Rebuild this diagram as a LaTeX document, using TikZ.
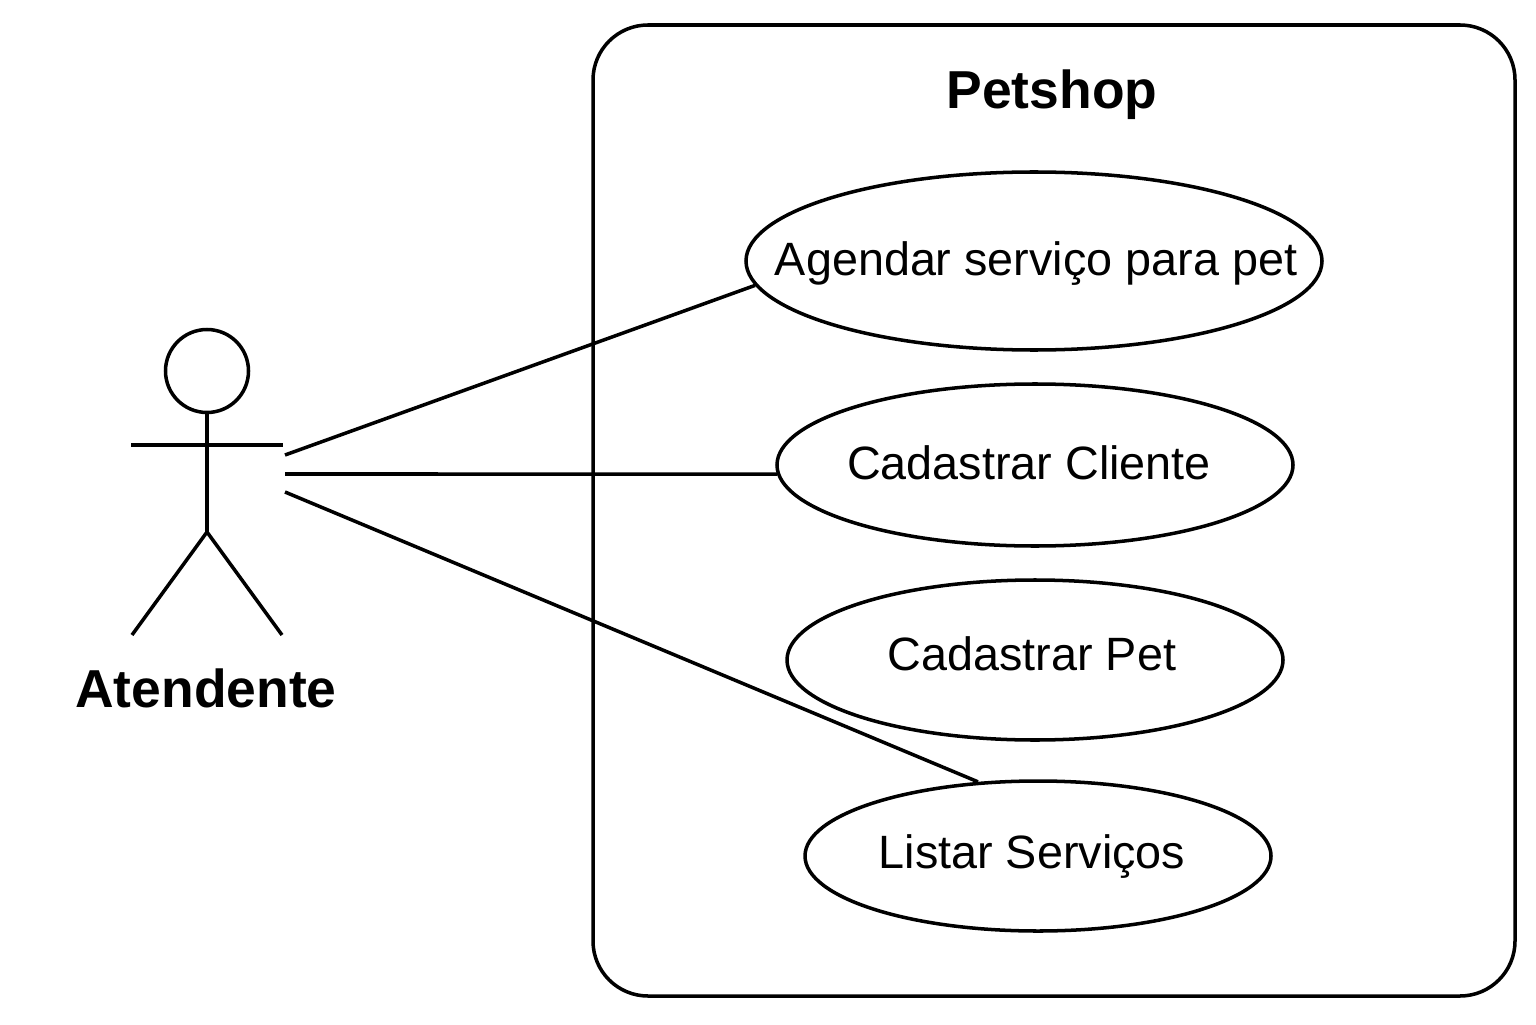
\documentclass[tikz,border=0pt]{standalone}
\usepackage{fontspec}
\setmainfont{Liberation Sans}
\usetikzlibrary{shapes.geometric}
\tikzset{
  usecase/.style={draw, ellipse, line width=1pt, inner sep=0pt},
  usetext/.style={inner sep=0pt, font=\fontsize{13.3}{16}\selectfont},
  boldtext/.style={inner sep=0pt, font=\fontsize{15.2}{18}\selectfont\bfseries}
}

\begin{document}
\begin{tikzpicture}[line width=1pt]
\useasboundingbox (0,0) rectangle (15.36,10.24);

% system box
\node[draw, rounded corners=0.55cm, line width=1pt, minimum width=9.22cm, minimum height=9.71cm, inner sep=0pt] (system) at (10.54,5.135) {};
\node[boldtext] (title) at (10.52,9.29) {Petshop};

% use cases
\node[usecase, minimum width=5.76cm, minimum height=1.78cm] (agendar) at (10.34,7.63) {};
\node[usecase, minimum width=5.16cm, minimum height=1.62cm] (cliente) at (10.35,5.59) {};
\node[usecase, minimum width=4.96cm, minimum height=1.60cm] (pet) at (10.35,3.64) {};
\node[usecase, minimum width=4.66cm, minimum height=1.50cm] (servicos) at (10.38,1.68) {};

\node[usetext] (agendartext) at (10.36,7.60) {Agendar serviço para pet};
\node[usetext] (clientetext) at (10.29,5.61) {Cadastrar Cliente};
\node[usetext] (pettext) at (10.32,3.70) {Cadastrar Pet};
\node[usetext] (servicostext) at (10.32,1.67) {Listar Serviços};

% actor
\node[draw, circle, line width=1pt, minimum size=0.83cm, inner sep=0pt] (head) at (2.07,6.53) {};
\coordinate (armL) at (1.31,5.79);
\coordinate (armR) at (2.83,5.79);
\coordinate (hip) at (2.07,4.92);
\coordinate (footL) at (1.32,3.89);
\coordinate (footR) at (2.82,3.89);
\draw (armL) -- (armR);
\draw (head) -- (hip);
\draw (footL) -- (hip) -- (footR);
\node[boldtext] (atendente) at (2.06,3.36) {Atendente};

% connectors
\coordinate (linkA) at (2.85,5.69);
\coordinate (linkB) at (2.85,5.50);
\coordinate (linkC) at (2.85,5.32);
\draw (linkA) -- (agendar.185);
\draw (linkB) -- (cliente.182);
\draw (linkC) -- (servicos.129.5);
\end{tikzpicture}
\end{document}
